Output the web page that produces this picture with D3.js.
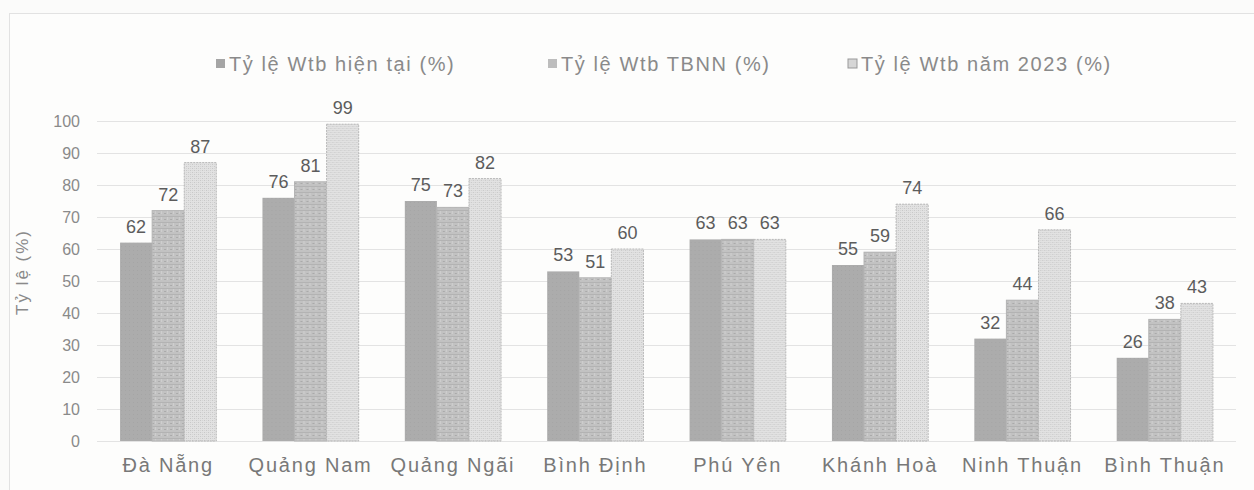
<!DOCTYPE html>
<html>
<head>
<meta charset="utf-8">
<script src="https://cdn.jsdelivr.net/npm/d3@7/dist/d3.min.js"></script>
<style>
  html, body { margin: 0; padding: 0; background: #fbfbfa; }
  svg { display: block; }
  text { font-family: "Liberation Sans", Arial, sans-serif; }
</style>
</head>
<body>
<svg id="chart" width="1254" height="490"></svg>
<script>
// Provinces along the x axis
const categories = ["Đà Nẵng", "Quảng Nam", "Quảng Ngãi", "Bình Định", "Phú Yên", "Khánh Hoà", "Ninh Thuận", "Bình Thuận"];
// Series names
const seriesNames = ["Tỷ lệ Wtb hiện tại (%)", "Tỷ lệ Wtb TBNN (%)", "Tỷ lệ Wtb năm 2023 (%)"];
// Values per series, one per province
const currentRate = [62, 76, 75, 53, 63, 55, 32, 26];
const averageRate = [72, 81, 73, 51, 63, 59, 44, 38];
const rate2023    = [87, 99, 82, 60, 63, 74, 66, 43];
const yTicks = [0, 10, 20, 30, 40, 50, 60, 70, 80, 90, 100];
const yTitle = "Tỷ lệ (%)";

const series = [currentRate, averageRate, rate2023];

const svg = d3.select("#chart");
const W = 1254, H = 490;
const margin = { left: 97, right: 18, top: 121, bottom: 49 };

// Frame of the chart area
svg.append("rect")
  .attr("x", 9.5).attr("y", 13.5)
  .attr("width", W - 9).attr("height", H - 6)
  .attr("fill", "#fdfdfc").attr("stroke", "#e2e2e2");

// Fill patterns for the three series
const defs = svg.append("defs");
const p1 = defs.append("pattern").attr("id", "pat-a")
  .attr("patternUnits", "userSpaceOnUse").attr("width", 4).attr("height", 4);
p1.append("rect").attr("width", 4).attr("height", 4).attr("fill", "#acacac");
p1.append("rect").attr("x", 1).attr("y", 2).attr("width", 1).attr("height", 1).attr("fill", "#a5a5a5");

const p2 = defs.append("pattern").attr("id", "pat-b")
  .attr("patternUnits", "userSpaceOnUse").attr("width", 6).attr("height", 6);
p2.append("rect").attr("width", 6).attr("height", 6).attr("fill", "#c2c2c2");
p2.append("rect").attr("x", 0).attr("y", 0).attr("width", 6).attr("height", 1).attr("fill", "#b3b3b3");
p2.append("rect").attr("x", 2).attr("y", 3).attr("width", 2).attr("height", 1).attr("fill", "#aaaaaa");
p2.append("rect").attr("x", 5).attr("y", 1).attr("width", 1).attr("height", 3).attr("fill", "#cfcfcf");

const p3 = defs.append("pattern").attr("id", "pat-c")
  .attr("patternUnits", "userSpaceOnUse").attr("width", 4).attr("height", 4);
p3.append("rect").attr("width", 4).attr("height", 4).attr("fill", "#e2e2e2");
p3.append("rect").attr("x", 0).attr("y", 0).attr("width", 1).attr("height", 1).attr("fill", "#c6c6c6");
p3.append("rect").attr("x", 2).attr("y", 0).attr("width", 1).attr("height", 1).attr("fill", "#d4d4d4");
p3.append("rect").attr("x", 2).attr("y", 2).attr("width", 1).attr("height", 1).attr("fill", "#c6c6c6");
p3.append("rect").attr("x", 0).attr("y", 2).attr("width", 1).attr("height", 1).attr("fill", "#d4d4d4");

const fills = ["url(#pat-a)", "url(#pat-b)", "url(#pat-c)"];
const strokes = ["none", "#b4b4b4", "#b8b8b8"];
const legendSwatch = ["#a5a5a5", "#bdbdbd", "#d6d6d6"];

const x0 = d3.scaleBand().domain(categories)
  .range([margin.left, W - margin.right]).paddingInner(0.324).paddingOuter(0.162);
const x1 = d3.scaleBand().domain([0, 1, 2]).range([0, x0.bandwidth()]);
const y = d3.scaleLinear().domain([0, 100]).range([H - margin.bottom, margin.top]);

// Horizontal gridlines
svg.append("g").selectAll("line").data(yTicks).join("line")
  .attr("x1", margin.left).attr("x2", W - margin.right)
  .attr("y1", d => y(d) + 0.5).attr("y2", d => y(d) + 0.5)
  .attr("stroke", "#e3e3e3").attr("stroke-width", 1);

// Y axis labels
const yAxis = svg.append("g")
  .attr("transform", `translate(${margin.left - 17},0)`)
  .call(d3.axisLeft(y).tickValues(yTicks).tickSize(0).tickPadding(0));
yAxis.select(".domain").remove();
yAxis.selectAll("text").attr("fill", "#8a8a8a").attr("font-size", 16)
  .attr("font-family", "'Liberation Sans', Arial, sans-serif");

// X axis labels
const xAxis = svg.append("g")
  .attr("transform", `translate(0,${H - margin.bottom})`)
  .call(d3.axisBottom(x0).tickSize(0).tickPadding(17));
xAxis.select(".domain").remove();
xAxis.selectAll("text").attr("fill", "#787878").attr("font-size", 20)
  .attr("letter-spacing", "1.8px")
  .attr("font-family", "'Liberation Sans', Arial, sans-serif");

// Bars
const groups = svg.append("g").selectAll("g").data(categories).join("g")
  .attr("transform", d => `translate(${x0(d)},0)`);

groups.selectAll("rect")
  .data((c, i) => series.map((s, k) => ({ k, v: s[i] })))
  .join("rect")
  .attr("x", d => x1(d.k)).attr("width", x1.bandwidth())
  .attr("y", d => y(d.v)).attr("height", d => y(0) - y(d.v))
  .attr("fill", d => fills[d.k])
  .attr("stroke", d => strokes[d.k])
  .attr("stroke-width", 1)
  .attr("stroke-dasharray", d => d.k === 2 ? "2,1" : null);

// Value labels
groups.selectAll("text.val")
  .data((c, i) => series.map((s, k) => ({ k, v: s[i] })))
  .join("text").attr("class", "val")
  .attr("x", d => x1(d.k) + x1.bandwidth() / 2)
  .attr("y", d => y(d.v) - 10)
  .attr("text-anchor", "middle")
  .attr("fill", "#5c5c5c").attr("font-size", 18)
  .text(d => d.v);

// Y axis title
svg.append("text")
  .attr("transform", `translate(28,272) rotate(-90)`)
  .attr("text-anchor", "middle")
  .attr("fill", "#8a8a8a").attr("font-size", 17)
  .attr("letter-spacing", "2px")
  .text(yTitle);

// Legend
const legendX = [216, 548, 848];
const legend = svg.append("g").selectAll("g").data(seriesNames).join("g")
  .attr("transform", (d, i) => `translate(${legendX[i]},64)`);
legend.append("rect").attr("x", 0).attr("y", -5).attr("width", 9).attr("height", 9)
  .attr("fill", (d, i) => legendSwatch[i])
  .attr("stroke", (d, i) => i === 2 ? "#999" : "none");
legend.append("text").attr("x", 13).attr("y", 7)
  .attr("fill", "#8a8a8a").attr("font-size", 20)
  .attr("letter-spacing", "1.6px")
  .text(d => d);
</script>
</body>
</html>
